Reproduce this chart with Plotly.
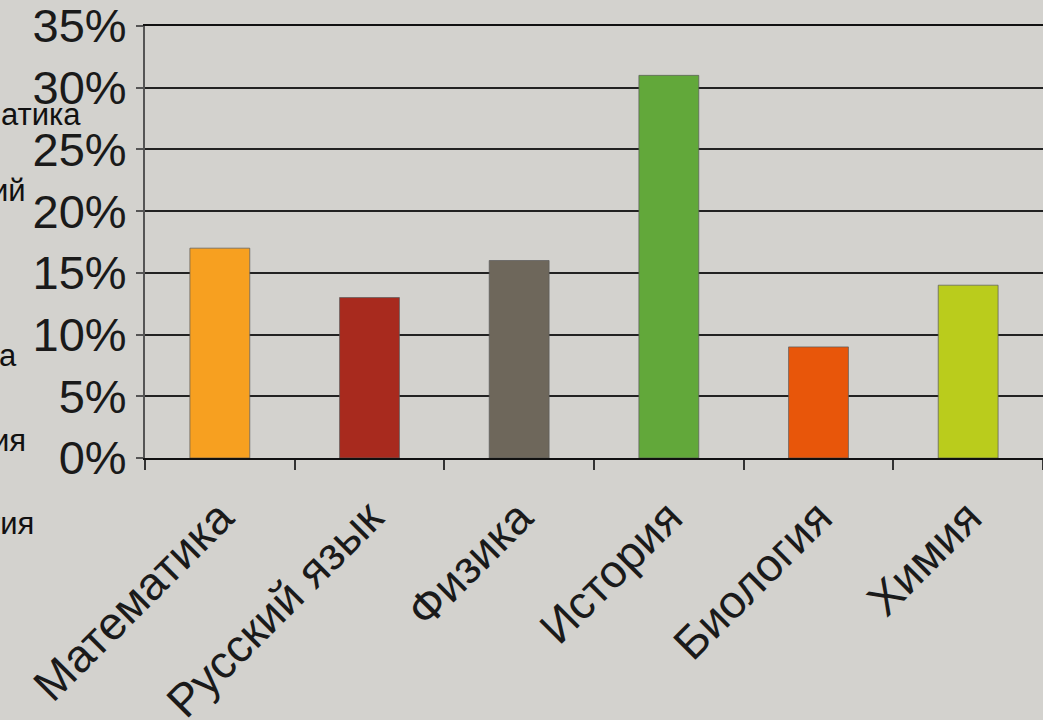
import plotly.graph_objects as go

categories = ["Математика", "Русский язык", "Физика", "История", "Биология", "Химия"]
values = [17, 13, 16, 31, 9, 14]
colors = ["#F7A020", "#A82A1E", "#6E675B", "#62A83A", "#E8560A", "#BACC1C"]
y_ticks = [0, 5, 10, 15, 20, 25, 30, 35]
side_texts = ["атика", "ий", "а", "ия", "тия"]
side_y = [115, 190, 355, 440, 523]
side_x = [82, 27, 18, 27, 35]

W, H = 1043, 720
L, R, T, B = 145, 0, 26, 262
pw, ph = W - L - R, H - T - B

fig = go.Figure(go.Bar(
    x=categories, y=values,
    marker=dict(color=colors, line=dict(color="rgba(90,90,90,0.7)", width=1)),
    width=0.4,
))

for t, yy, xx in zip(side_texts, side_y, side_x):
    fig.add_annotation(
        text=t, xref="paper", yref="paper",
        x=(xx - L) / pw, y=1 - (yy - T) / ph,
        xanchor="right", yanchor="middle", showarrow=False,
        font=dict(family="Liberation Sans, Arial", size=31, color="#111"),
        borderpad=0,
    )

fig.update_layout(
    width=W, height=H,
    margin=dict(l=L, r=R, t=T, b=B, autoexpand=False),
    paper_bgcolor="#d3d2ce", plot_bgcolor="#d3d2ce",
    showlegend=False,
    font=dict(family="Liberation Sans, Arial", color="#111"),
)
fig.update_yaxes(
    range=[0, 35], tickvals=y_ticks, ticktext=[f"{v}%" for v in y_ticks],
    showgrid=True, gridcolor="#222", gridwidth=1.5,
    showline=True, linecolor="#555", linewidth=2,
    ticks="outside", ticklen=7, tickcolor="#555", tickwidth=2,
    tickfont=dict(size=47, color="#1a1a1a"), zeroline=False,
    ticklabeloverflow="allow", automargin=False,
)
fig.update_xaxes(
    showline=True, linecolor="#111", linewidth=2, mirror=True,
    ticks="outside", ticklen=10, tickcolor="#333", tickwidth=2,
    tickson="boundaries", tickangle=-45,
    tickfont=dict(size=46, color="#1a1a1a"),
    ticklabelstandoff=12, automargin=False,
    range=[-0.5, 5.5],
)
fig.write_html("out.html", config={"displayModeBar": False},
               post_script="document.body.style.margin='0';document.body.style.padding='0';")
